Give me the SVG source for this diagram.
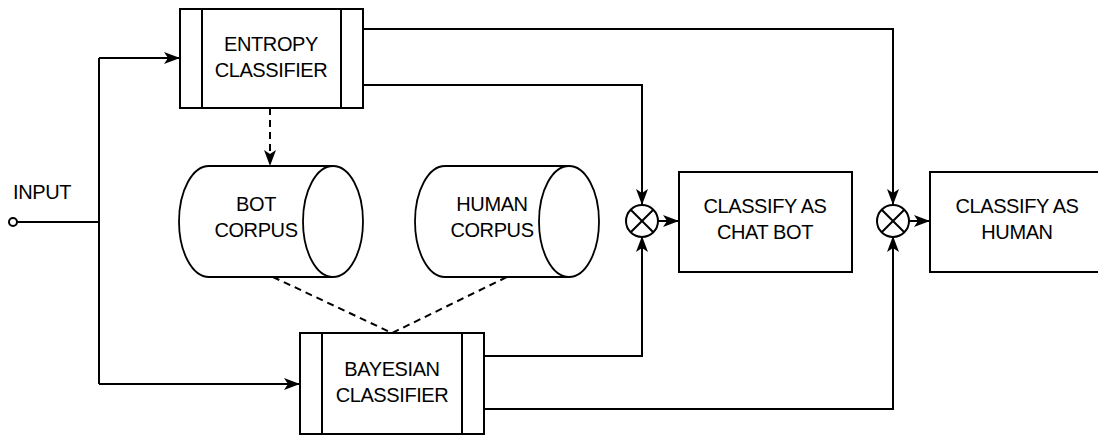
<svg xmlns="http://www.w3.org/2000/svg" width="1098" height="437" viewBox="0 0 1098 437">
<style>
.box{fill:#fff;stroke:#000;stroke-width:2}
.cyl{fill:#fff;stroke:#000;stroke-width:1.8}
.ln{fill:none;stroke:#000;stroke-width:2}
.dash{fill:none;stroke:#000;stroke-width:2;stroke-dasharray:7,5}
.t{font-family:"Liberation Sans",Arial,sans-serif;font-size:20px;letter-spacing:-0.4px;fill:#000;text-anchor:middle}
</style>
<defs>
<marker id="arr" viewBox="0 0 16 12" refX="16" refY="6" markerWidth="16" markerHeight="12" markerUnits="userSpaceOnUse" orient="auto">
<path d="M0,0 L16,6 L0,12 L4,6 Z" fill="#000"/>
</marker>
</defs>
<g id="connectors">
<circle cx="13" cy="222" r="4" fill="#fff" stroke="#000" stroke-width="2"/>
<path class="ln" d="M17,222 H99"/>
<path class="ln" d="M99,58 V384"/>
<path class="ln" d="M99,58 H180" marker-end="url(#arr)"/>
<path class="ln" d="M99,384 H300" marker-end="url(#arr)"/>
<path class="dash" d="M270,108 V166" marker-end="url(#arr)"/>
<path class="dash" d="M273,277 L392,333 L507,277"/>
<path class="ln" d="M363,29 H893 V205" marker-end="url(#arr)"/>
<path class="ln" d="M363,85 H642 V205" marker-end="url(#arr)"/>
<path class="ln" d="M484,356 H642 V236" marker-end="url(#arr)"/>
<path class="ln" d="M484,409 H893 V236" marker-end="url(#arr)"/>
<path class="ln" d="M658,221 H679" marker-end="url(#arr)"/>
<path class="ln" d="M909,221 H930" marker-end="url(#arr)"/>
</g>
<g id="entropy">
<rect class="box" x="180" y="9" width="183" height="99"/>
<path class="ln" d="M202,9 V108 M341,9 V108"/>
<text class="t" x="271" y="51">ENTROPY</text>
<text class="t" x="271" y="77">CLASSIFIER</text>
</g>
<g id="bot-corpus">
<path class="cyl" d="M333,166 H209 A30,55.5 0 0 0 209,277 H333"/>
<ellipse class="cyl" cx="333" cy="221.5" rx="30" ry="55.5"/>
<text class="t" x="256" y="211">BOT</text>
<text class="t" x="256" y="237">CORPUS</text>
</g>
<g id="human-corpus">
<path class="cyl" d="M569,166 H445 A30,55.5 0 0 0 445,277 H569"/>
<ellipse class="cyl" cx="569" cy="221.5" rx="30" ry="55.5"/>
<text class="t" x="492" y="211">HUMAN</text>
<text class="t" x="492" y="237">CORPUS</text>
</g>
<g id="bayesian">
<rect class="box" x="300" y="333" width="184" height="101"/>
<path class="ln" d="M322,333 V434 M462,333 V434"/>
<text class="t" x="392" y="376">BAYESIAN</text>
<text class="t" x="392" y="402">CLASSIFIER</text>
</g>
<g id="junction1">
<circle cx="642" cy="221" r="16" fill="#fff" stroke="#000" stroke-width="2"/>
<path class="ln" d="M630.7,209.7 L653.3,232.3 M653.3,209.7 L630.7,232.3"/>
</g>
<g id="junction2">
<circle cx="893" cy="221" r="16" fill="#fff" stroke="#000" stroke-width="2"/>
<path class="ln" d="M881.7,209.7 L904.3,232.3 M904.3,209.7 L881.7,232.3"/>
</g>
<g id="classify-bot">
<rect class="box" x="679" y="172" width="173" height="100"/>
<text class="t" x="765" y="213">CLASSIFY AS</text>
<text class="t" x="765" y="239">CHAT BOT</text>
</g>
<g id="classify-human">
<rect class="box" x="930" y="172" width="180" height="100"/>
<text class="t" x="1017" y="213">CLASSIFY AS</text>
<text class="t" x="1017" y="239">HUMAN</text>
</g>
<g id="input-label">
<text x="13" y="199" style="font-family:'Liberation Sans',Arial,sans-serif;font-size:20px;letter-spacing:-0.4px">INPUT</text>
</g>
</svg>
